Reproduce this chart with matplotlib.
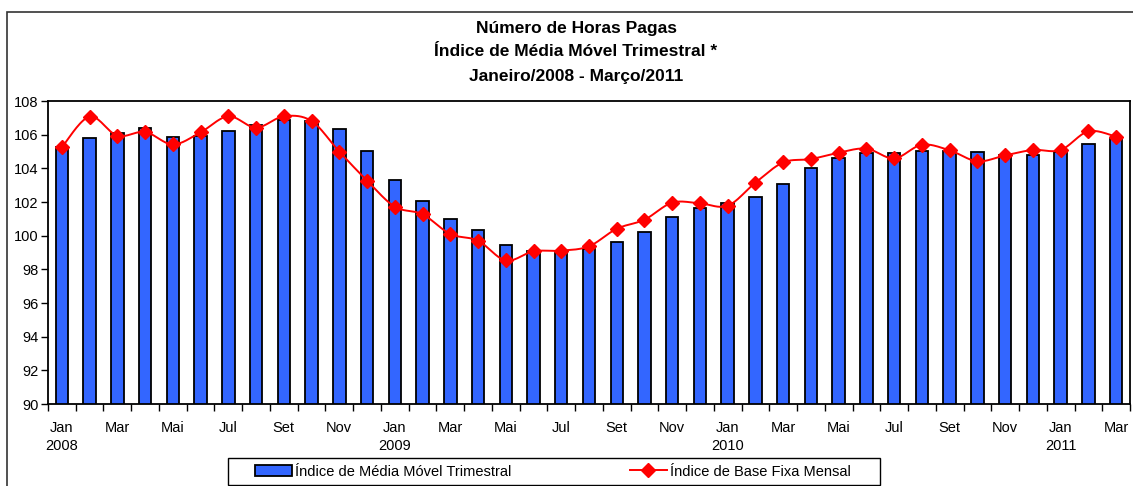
import numpy as np
import matplotlib
matplotlib.use("Agg")
import matplotlib.pyplot as plt
from matplotlib.patches import Rectangle
from matplotlib.lines import Line2D

plt.rcParams['font.family'] = ['Liberation Sans', 'DejaVu Sans']

months = ["Jan", "Fev", "Mar", "Abr", "Mai", "Jun", "Jul", "Ago", "Set", "Out", "Nov", "Dez"]
years = ["2008", "2009", "2010", "2011"]

media_movel = [105.27, 105.78, 106.08, 106.40, 105.84, 105.92, 106.22, 106.56, 106.87, 106.79,
               106.32, 105.03, 103.32, 102.08, 101.01, 100.34, 99.44, 99.11, 98.95, 99.19,
               99.60, 100.24, 101.11, 101.62, 101.92, 102.28, 103.09, 104.00, 104.61, 104.89,
               104.91, 105.05, 105.03, 104.95, 104.77, 104.77, 104.99, 105.46, 105.72]
base_fixa = [105.25, 107.07, 105.94, 106.16, 105.42, 106.14, 107.09, 106.42, 107.09, 106.81,
             104.99, 103.27, 101.72, 101.27, 100.10, 99.70, 98.53, 99.07, 99.11, 99.37,
             100.41, 100.95, 101.96, 101.92, 101.78, 103.15, 104.35, 104.55, 104.93, 105.17,
             104.59, 105.40, 105.07, 104.42, 104.77, 105.09, 105.09, 106.20, 105.88]

n = len(media_movel)
labels = []
for i in range(n):
    m = i % 12
    if m % 2 == 0:
        lab = months[m]
        if m == 0:
            lab += "\n" + years[i // 12]
        labels.append(lab)
    else:
        labels.append("")

W, H = 1133, 486
fig = plt.figure(figsize=(W / 100, H / 100), dpi=100)
ax = fig.add_axes([48 / W, (H - 404) / H, (1130 - 48) / W, (404 - 101) / H])

x = np.arange(n)
ax.bar(x, media_movel, width=0.45, color='#3366FF', edgecolor='black', linewidth=1.3,
       zorder=2, label='Índice de Média Móvel Trimestral')

# smooth curve (Excel-style Bezier) through the data points
def smooth(xs, ys, steps=20):
    xs = np.asarray(xs, float); ys = np.asarray(ys, float)
    px = np.concatenate([[xs[0]], xs, [xs[-1]]])
    py = np.concatenate([[ys[0]], ys, [ys[-1]]])
    ox, oy = [], []
    for k in range(1, len(px) - 2):
        p0, p1, p2, p3 = (np.array([px[j], py[j]]) for j in (k - 1, k, k + 1, k + 2))
        c1 = p1 + (p2 - p0) / 6
        c2 = p2 - (p3 - p1) / 6
        t = np.linspace(0, 1, steps)[:, None]
        pts = (1 - t) ** 3 * p1 + 3 * (1 - t) ** 2 * t * c1 + 3 * (1 - t) * t ** 2 * c2 + t ** 3 * p2
        ox.extend(pts[:, 0]); oy.extend(pts[:, 1])
    return ox, oy

sx, sy = smooth(x, base_fixa)
ax.plot(sx, sy, color='#FF0000', lw=1.4, zorder=3)
ax.plot(x, base_fixa, ls='none', marker='D', ms=7, color='#FF0000', zorder=4)

ax.set_xlim(-0.5, n - 0.5)
ax.set_ylim(90, 108)
ax.set_yticks(np.arange(90, 109, 2))
ax.tick_params(axis='y', direction='out', length=5, width=1, labelsize=10.5, pad=2)
ax.set_xticks(x)
ax.set_xticklabels(labels, fontsize=10.5, linespacing=1.35)
ax.tick_params(axis='x', which='major', length=0, pad=12)
ax.set_xticks(np.arange(-0.5, n, 1), minor=True)
ax.tick_params(axis='x', which='minor', direction='out', length=5, width=1)
for s in ax.spines.values():
    s.set_linewidth(1.3)
    s.set_color('black')

tx = 576 / W
fig.text(tx, (H - 29) / H, "Número de Horas Pagas", ha='center', va='center',
         fontsize=12.5, fontweight='bold')
fig.text(tx, (H - 52) / H, "Índice de Média Móvel Trimestral *", ha='center', va='center',
         fontsize=12.5, fontweight='bold')
fig.text(tx, (H - 76) / H, "Janeiro/2008 - Março/2011", ha='center', va='center',
         fontsize=12.5, fontweight='bold')

h1 = Rectangle((0, 0), 1, 1, facecolor='#3366FF', edgecolor='black', lw=1.3)
h2 = Line2D([], [], color='#FF0000', lw=1.4, marker='D', ms=7)
leg = fig.legend([h1, h2], ['Índice de Média Móvel Trimestral', 'Índice de Base Fixa Mensal'],
                 loc='center left', bbox_to_anchor=(255 / W, (H - 471.5) / H), ncol=2,
                 fontsize=10.5, frameon=False,
                 handlelength=2.55, handletextpad=0.2, columnspacing=8.1, borderpad=0,
                 borderaxespad=0)

fig.add_artist(Rectangle((228 / W, (H - 485) / H), (880 - 228) / W, 27 / H,
                         transform=fig.transFigure, fill=False, edgecolor='black', lw=1.0))

fig.add_artist(Rectangle((7 / W, -0.2), 1.2, (H - 12) / H + 0.2, transform=fig.transFigure,
                         fill=False, edgecolor='#333333', lw=1.2, clip_on=False))

fig.savefig("out.png", dpi=100)
